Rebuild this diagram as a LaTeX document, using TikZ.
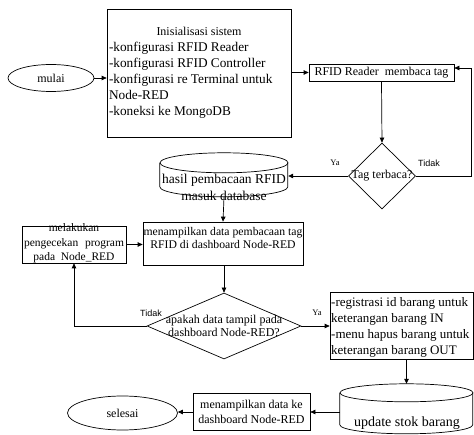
\documentclass[tikz,border=0pt]{standalone}
\usepackage{fontspec}
\setmainfont{Liberation Serif}
\newfontfamily\lsans{Liberation Sans}
\usetikzlibrary{shapes.geometric,arrows.meta,calc}
\begin{document}
\begin{tikzpicture}[x=1pt,y=-1pt,
  box/.style={draw, line width=0.7pt, inner sep=0pt},
  arr/.style={-{Triangle[length=5pt,width=4.5pt]}, line width=0.7pt},
  ln/.style={line width=0.7pt},
  txt/.style={inner sep=0pt, font=\fontsize{12}{16}\selectfont},
  lbl/.style={inner sep=0pt, font=\lsans\fontsize{9}{10}\selectfont},
  lbls/.style={inner sep=0pt, font=\fontsize{8.5}{10}\selectfont},
]
\useasboundingbox (0,0) rectangle (474,435);

% start
\node[box, ellipse, minimum width=86pt, minimum height=27pt, font=\fontsize{12}{14}\selectfont] (mulai) at (51,78) {mulai};

% init box
\node[box, minimum width=184pt, minimum height=128pt] (init) at (199,73) {};
\node[txt, align=left, font=\fontsize{13.3}{16}\selectfont] (inittxt) at (199,73) {\makebox[180pt]{\fontsize{12}{16}\selectfont Inisialisasi sistem}\\-konfigurasi RFID Reader\\-konfigurasi RFID Controller\\-konfigurasi re Terminal untuk\\Node-RED\\-koneksi ke MongoDB};

% RFID reader
\node[box, minimum width=145pt, minimum height=17pt, font=\fontsize{12}{14}\selectfont] (rfid) at (381.5,72.5) {RFID Reader\ \ membaca tag};

% decision tag
\node[box, diamond, minimum width=67pt, minimum height=66pt, font=\fontsize{12}{14}\selectfont] (tag) at (382,176) {\makebox[0pt]{Tag terbaca?}};

% cylinder 1
\node[inner sep=0pt, minimum width=128pt, minimum height=44pt] (cyl1) at (224,175) {};
\draw[ln] (cyl1.north west) ++(0,10) -- ++(0,24) arc[start angle=180,end angle=360,x radius=64pt,y radius=10pt] -- ++(0,-24);
\draw[ln] ($(cyl1.north)+(0,10)$) ellipse [x radius=64pt, y radius=10pt];
\node[txt, align=center, font=\fontsize{13.5}{17}\selectfont] (cyl1txt) at (224,187.5) {hasil pembacaan RFID\\masuk database};

% box2
\node[box, minimum width=160pt, minimum height=43pt] (box2) at (223,243.5) {};
\node[txt, align=center, font=\fontsize{11.7}{13.5}\selectfont] (box2txt) at (223,238) {menampilkan data pembacaan tag\\RFID di dashboard Node-RED};

% check box
\node[box, minimum width=104pt, minimum height=37pt] (chk) at (74,244.5) {};
\node[txt, align=center, font=\fontsize{11.5}{14.5}\selectfont] (chktxt) at (74,243.5) {melakukan\\\makebox[100pt]{pengecekan\hfill program}\\pada\ \ Node\_RED};

% decision 2
\node[box, diamond, minimum width=154pt, minimum height=66pt] (dia2) at (224,326) {};
\node[txt, align=center, font=\fontsize{12}{13}\selectfont] (dia2txt) at (224,325.5) {apakah data tampil pada\\dashboard Node-RED?};

% action box
\node[box, minimum width=143pt, minimum height=67pt] (act) at (401.5,325.5) {};
\node[txt, align=left, anchor=west, font=\fontsize{13}{16}\selectfont] (acttxt) at (331,327) {-registrasi id barang untuk\\keterangan barang IN\\-menu hapus barang untuk\\keterangan barang OUT};

% cylinder 2
\node[inner sep=0pt, minimum width=133pt, minimum height=50pt] (cyl2) at (406.5,409) {};
\draw[ln] (cyl2.north west) ++(0,9) -- ++(0,32) arc[start angle=180,end angle=360,x radius=66.5pt,y radius=9pt] -- ++(0,-32);
\draw[ln] ($(cyl2.north)+(0,9)$) ellipse [x radius=66.5pt, y radius=9pt];
\node[txt, font=\fontsize{14}{16}\selectfont] (cyl2txt) at (407,423) {update stok barang};

% box3
\node[box, align=center, minimum width=117pt, minimum height=37pt, font=\fontsize{12}{15}\selectfont] (box3) at (251.5,412) {menampilkan data ke\\dashboard Node-RED};

% end
\node[box, ellipse, minimum width=110pt, minimum height=34pt, font=\fontsize{12}{14}\selectfont] (selesai) at (122.5,413) {selesai};

% labels
\node[lbls] (ya1) at (335,163) {Ya};
\node[lbl] (tidak1) at (429,163) {Tidak};
\node[lbl] (tidak2) at (151,313) {Tidak};
\node[lbls] (ya2) at (317,313) {Ya};

% connectors
\coordinate (rt) at (471,68);
\draw[arr] (mulai.east) -- (mulai.east -| init.west);
\draw[arr] (rfid.west -| init.east) -- (rfid.west);
\draw[arr] (rfid.south) -- (tag.north);
\draw[arr] (tag.west) -- (tag.west -| cyl1.east);
\draw[arr] (tag.east) -| (rt) -- (rt -| rfid.east);
\draw[arr] (cyl1.south) -- (box2.north);
\draw[arr] (box2.south -| dia2.north) -- (dia2.north);
\draw[arr] (dia2.west) -| (chk.south);
\draw[arr] (chk.east) -- (chk.east -| box2.west);
\draw[arr] (dia2.east) -- (dia2.east -| act.west);
\draw[arr] (act.south -| cyl2.north) -- (cyl2.north);
\draw[arr] (cyl2.west |- box3.east) -- (box3.east);
\draw[arr] (box3.west) -- (box3.west -| selesai.east);
\end{tikzpicture}
\end{document}
